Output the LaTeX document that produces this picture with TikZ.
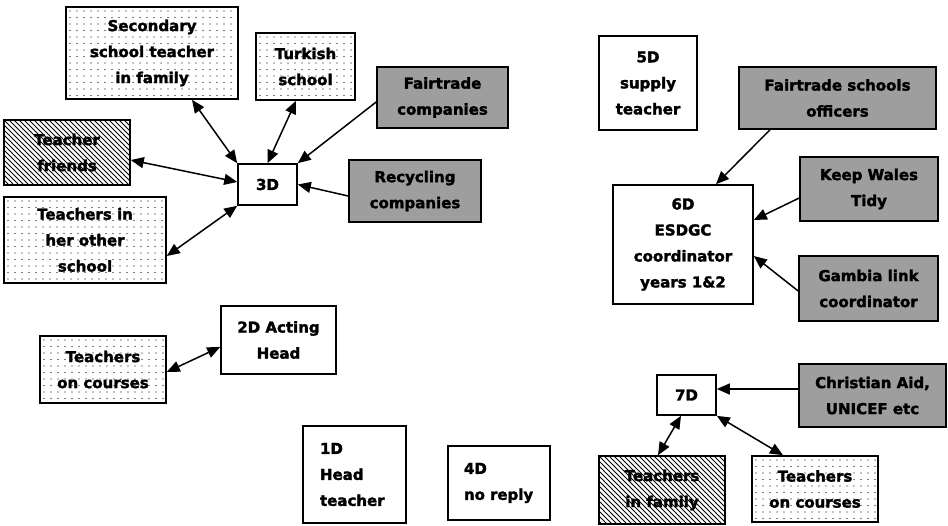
\documentclass[tikz,border=0pt]{standalone}
\usepackage{fontspec}
\setmainfont[BoldFont={DejaVu Sans Bold},BoldFeatures={FakeBold=2}]{DejaVu Sans}
\usetikzlibrary{arrows.meta}
\definecolor{boxgray}{gray}{0.62}
\begin{document}
\begin{tikzpicture}[x=1pt,y=-1pt,
  font=\fontsize{15}{26}\selectfont\bfseries,
  box/.style={draw,line width=1.6pt,inner sep=0pt,align=center},
  dotbox/.style={box,path picture={
    \foreach \xx in {4,11,...,200}{\foreach \yy in {4,10.5,...,120}{
      \fill ([xshift=\xx pt,yshift=-\yy pt]path picture bounding box.north west) circle (0.6pt);}}}},
  hatchbox/.style={box,path picture={
    \foreach \xx in {-130,-125,...,130}{
      \draw[line width=0.8pt] ([xshift=\xx pt]path picture bounding box.north west) -- ++(100,100);}}},
  graybox/.style={box,fill=boxgray},
  bi/.style={line width=1.5pt,{Triangle[length=13pt,width=11pt]}-{Triangle[length=13pt,width=11pt]}},
  uni/.style={line width=1.5pt,-{Triangle[length=13pt,width=11pt]}}]
\useasboundingbox (0,0) rectangle (948,525);
\fill[white] (0,0) rectangle (948,525);
% left group
\node[dotbox,minimum width=172,minimum height=92] (sec) at (152,53) {Secondary\\school teacher\\in family};
\node[dotbox,minimum width=99,minimum height=67] (turk) at (305.5,66.5) {Turkish\\school};
\node[graybox,minimum width=131,minimum height=61] (ftc) at (442.5,97.5) {Fairtrade\\companies};
\node[hatchbox,minimum width=126,minimum height=65] (tf) at (67,152.5) {Teacher\\friends};
\node[box,minimum width=59,minimum height=41] (d3) at (267.5,184.5) {3D};
\node[graybox,minimum width=132,minimum height=62] (rec) at (415,191) {Recycling\\companies};
\node[dotbox,minimum width=162,minimum height=86] (tos) at (85,240) {Teachers in\\her other\\school};
\node[box,minimum width=115,minimum height=68] (d2) at (278.5,340) {2D Acting\\Head};
\node[dotbox,minimum width=126,minimum height=67] (toc) at (103,369.5) {Teachers\\on courses};
\node[box,minimum height=97,text width=69,inner xsep=17,align=left] (d1) at (354.5,474.5) {1D\\Head\\teacher};
\node[box,minimum height=74,text width=70,inner xsep=16,align=left] (d4) at (499,483) {4D\\no reply};
% right group
\node[box,minimum width=98,minimum height=94] (d5) at (648,83) {5D\\supply\\teacher};
\node[graybox,minimum width=197,minimum height=62] (fso) at (837.5,98) {Fairtrade schools\\officers};
\node[box,minimum width=140,minimum height=119] (d6) at (683,244.5) {6D\\ESDGC\\coordinator\\years 1\&2};
\node[graybox,minimum width=138,minimum height=64] (kwt) at (869,189) {Keep Wales\\Tidy};
\node[graybox,minimum width=139,minimum height=65] (gam) at (868.5,288.5) {Gambia link\\coordinator};
\node[box,minimum width=59,minimum height=40] (d7) at (686.5,395) {7D};
\node[graybox,minimum width=147,minimum height=63] (ca) at (872.5,395.5) {Christian Aid,\\UNICEF etc};
\node[hatchbox,minimum width=126,minimum height=68] (tfam) at (662,490) {Teachers\\in family};
\node[dotbox,minimum width=126,minimum height=66] (toc2) at (815,489) {Teachers\\on courses};
% connectors
\draw[bi] ([xshift=40]sec.south) -- (d3.north west);
\draw[bi] ([xshift=-9.5]turk.south) -- (d3.north);
\draw[uni] ([yshift=-4.5]ftc.west) -- (d3.north east);
\draw[bi] ([yshift=-7.5]tf.east) -- ([yshift=2.5]d3.west);
\draw[uni] ([yshift=-5]rec.west) -- (d3.east);
\draw[bi] ([yshift=-16]tos.east) -- (d3.south west);
\draw[bi] ([yshift=-2.5]toc.east) -- ([yshift=-7]d2.west);
\draw[uni] ([xshift=-67.5]fso.south) -- ([xshift=33]d6.north);
\draw[uni] ([yshift=-9]kwt.west) -- ([yshift=24.5]d6.east);
\draw[uni] ([yshift=-2.5]gam.west) -- ([yshift=-11.5]d6.east);
\draw[uni] ([yshift=6.5]ca.west) -- ([yshift=6]d7.east);
\draw[bi] ([xshift=-4]tfam.north) -- ([xshift=-5.5]d7.south);
\draw[bi] ([xshift=-32]toc2.north) -- (d7.south east);
\end{tikzpicture}
\end{document}
